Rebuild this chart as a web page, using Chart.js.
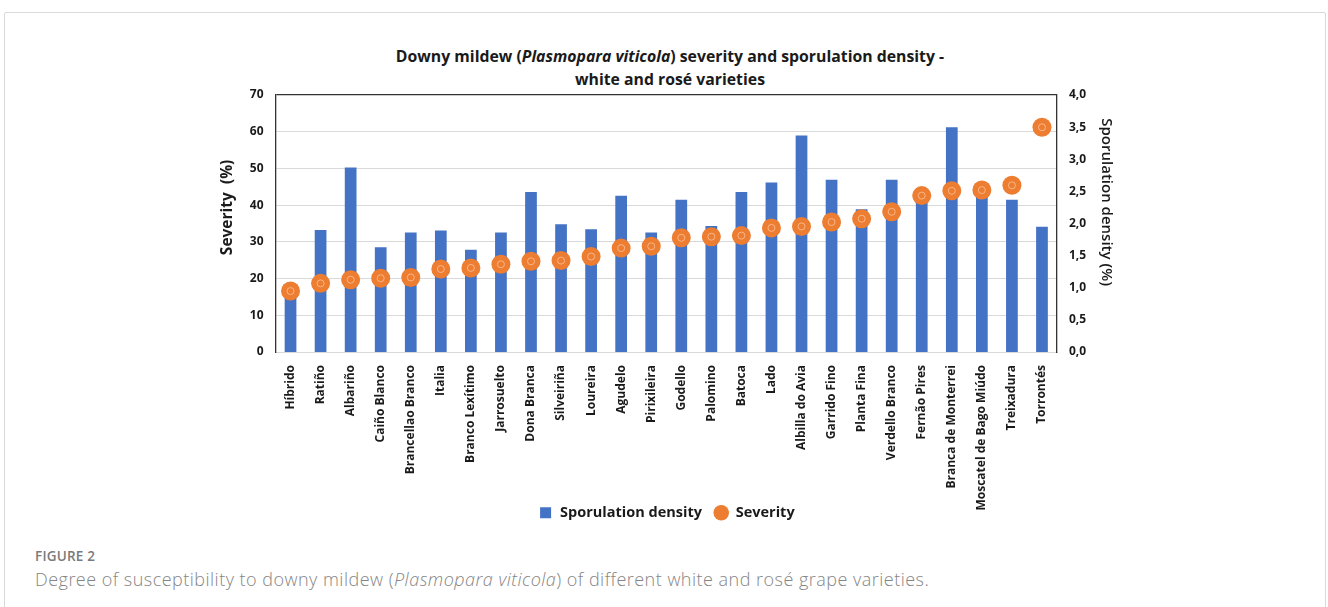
<!DOCTYPE html>
<html>
<head>
<meta charset="utf-8">
<script src="https://cdn.jsdelivr.net/npm/chart.js@4.4.1/dist/chart.umd.min.js"></script>
<style>
  html, body { margin: 0; padding: 0; background: #fff; }
  body { width: 1328px; height: 607px; position: relative; overflow: hidden; font-family: "Open Sans", sans-serif; }
  #frame { position: absolute; left: 4px; top: 12px; width: 1322px; height: 640px; border: 1px solid #d9d9d9; border-radius: 2px; box-sizing: border-box; }
  #title { position: absolute; left: 0; width: 1340px; top: 45px; text-align: center; font-weight: 700; font-size: 15.8px; line-height: 22.6px; color: #1a1a1a; }
  #wrap { position: absolute; left: 0; top: 0; width: 1328px; height: 540px; }
  #fig { position: absolute; left: 35px; top: 547px; font-size: 13.5px; font-weight: 600; color: #7a7a7a; letter-spacing: 0.2px; }
  #cap { position: absolute; left: 35px; top: 567px; font-size: 18px; font-weight: 300; color: #858585; white-space: nowrap; letter-spacing: 0.48px; }
</style>
</head>
<body>
<div id="frame"></div>
<div id="title">Downy mildew (<i>Plasmopara viticola</i>) severity and sporulation density -<br>white and rosé varieties</div>
<div id="wrap"><canvas id="chart"></canvas></div>
<div id="fig">FIGURE 2</div>
<div id="cap">Degree of susceptibility to downy mildew (<i>Plasmopara viticola</i>) of different white and rosé grape varieties.</div>
<script>
// Grape varieties, ordered by severity
const varieties = [
  "Híbrido", "Ratiño", "Albariño", "Caiño Blanco", "Brancellao Branco", "Italia",
  "Branco Lexítimo", "Jarrosuelto", "Dona Branca", "Silveiriña", "Loureira", "Agudelo",
  "Pirixileira", "Godello", "Palomino", "Batoca", "Lado", "Albilla do Avia",
  "Garrido Fino", "Planta Fina", "Verdello Branco", "Fernão Pires", "Branca de Monterrei",
  "Moscatel de Bago Miúdo", "Treixadura", "Torrontés"
];

// Sporulation density (%), right axis
const sporulationDensity = [
  0.91, 1.90, 2.87, 1.63, 1.86, 1.89,
  1.59, 1.86, 2.49, 1.99, 1.91, 2.43,
  1.86, 2.37, 1.96, 2.49, 2.64, 3.37,
  2.68, 2.22, 2.68, 2.37, 3.50,
  2.46, 2.37, 1.95
];

// Severity (%), left axis
const severity = [
  16.6, 18.7, 19.7, 20.1, 20.3, 22.6,
  22.9, 23.9, 24.7, 24.9, 26.0, 28.3,
  28.8, 31.1, 31.4, 31.7, 33.8, 34.2,
  35.4, 36.3, 38.2, 42.6, 43.9,
  44.1, 45.4, 61.2
];

const severityTicks = [0, 10, 20, 30, 40, 50, 60, 70];
const densityTicks = [0, 0.5, 1, 1.5, 2, 2.5, 3, 3.5, 4];

const BLUE = "#4472C4";
const ORANGE = "#ED7D31";
const FONT = "'Open Sans', sans-serif";

// The category labels are long and reach down beside the legend;
// widen the x-axis label clip box after layout so they are not cut.
const extendLabelArea = {
  id: "extendLabelArea",
  afterLayout(chart) {
    const x = chart.scales.x;
    x.bottom = x.top + 175;
  }
};

new Chart(document.getElementById("chart"), {
  plugins: [extendLabelArea],
  data: {
    labels: varieties,
    datasets: [
      {
        type: "bar",
        label: "Sporulation density",
        data: sporulationDensity,
        yAxisID: "y1",
        backgroundColor: BLUE,
        barPercentage: 0.39,
        categoryPercentage: 1.0,
        pointStyle: "rect",
        order: 3
      },
      {
        type: "line",
        label: "Severity",
        data: severity,
        yAxisID: "y",
        showLine: false,
        pointRadius: 9.5,
        pointHoverRadius: 9.5,
        pointBackgroundColor: ORANGE,
        pointBorderWidth: 0,
        backgroundColor: ORANGE,
        borderColor: ORANGE,
        pointStyle: "circle",
        order: 2
      },
      {
        // small ring in the centre of each severity marker
        type: "line",
        label: "severity-ring",
        data: severity,
        yAxisID: "y",
        showLine: false,
        pointRadius: 3.5,
        pointHoverRadius: 3.5,
        pointBackgroundColor: "rgba(0,0,0,0)",
        pointBorderColor: "rgba(250,190,150,0.85)",
        pointBorderWidth: 1,
        order: 1
      }
    ]
  },
  options: {
    responsive: true,
    maintainAspectRatio: false,
    animation: false,
    events: [],
    layout: { padding: { top: 95, left: 214, right: 209, bottom: 10 } },
    plugins: {
      title: { display: false },
      tooltip: { enabled: false },
      legend: {
        position: "bottom",
        labels: {
          usePointStyle: true,
          boxHeight: 11,
          padding: 12,
          color: "#1a1a1a",
          font: { family: FONT, size: 14.5, weight: "700" },
          filter: (item) => item.text !== "severity-ring",
          sort: (a, b) => a.datasetIndex - b.datasetIndex
        }
      }
    },
    scales: {
      x: {
        grid: { display: false },
        border: { display: true, color: "#d9d9d9", width: 1 },
        ticks: {
          autoSkip: false,
          maxRotation: 90,
          minRotation: 90,
          padding: 5,
          color: "#1a1a1a",
          font: { family: FONT, size: 12, weight: "700" }
        },
        afterFit: (scale) => { scale.height = 141.5; }
      },
      y: {
        position: "left",
        min: 0,
        max: 70,
        afterBuildTicks: (scale) => { scale.ticks = severityTicks.map(v => ({ value: v })); },
        grid: {
          drawTicks: false,
          color: (ctx) => (ctx.tick && ctx.tick.value === 70 ? "#333333" : "#d9d9d9"),
          lineWidth: (ctx) => (ctx.tick && ctx.tick.value === 70 ? 1.3 : 1)
        },
        border: { display: true, color: "#333333", width: 1.3 },
        ticks: {
          padding: 12,
          color: "#1a1a1a",
          font: { family: FONT, size: 12, weight: "700" }
        },
        title: {
          display: true,
          text: "        Severity  (%)",
          color: "#1a1a1a",
          font: { family: FONT, size: 15.5, weight: "700" },
          padding: { top: 4, bottom: 4 }
        },
        afterFit: (scale) => { scale.width = 61.5; }
      },
      y1: {
        position: "right",
        min: 0,
        max: 4,
        afterBuildTicks: (scale) => { scale.ticks = densityTicks.map(v => ({ value: v })); },
        grid: { display: false, drawTicks: false },
        border: { display: true, color: "#333333", width: 1.3 },
        ticks: {
          padding: 12,
          color: "#1a1a1a",
          font: { family: FONT, size: 12, weight: "700" },
          callback: (v) => Number(v).toFixed(1).replace(".", ",")
        },
        title: {
          display: true,
          text: "Sporulation density (%)           ",
          color: "#1a1a1a",
          font: { family: FONT, size: 15, weight: "600" },
          padding: { top: 4, bottom: 4 }
        },
        afterFit: (scale) => { scale.width = 62; }
      }
    }
  }
});
</script>
</body>
</html>
